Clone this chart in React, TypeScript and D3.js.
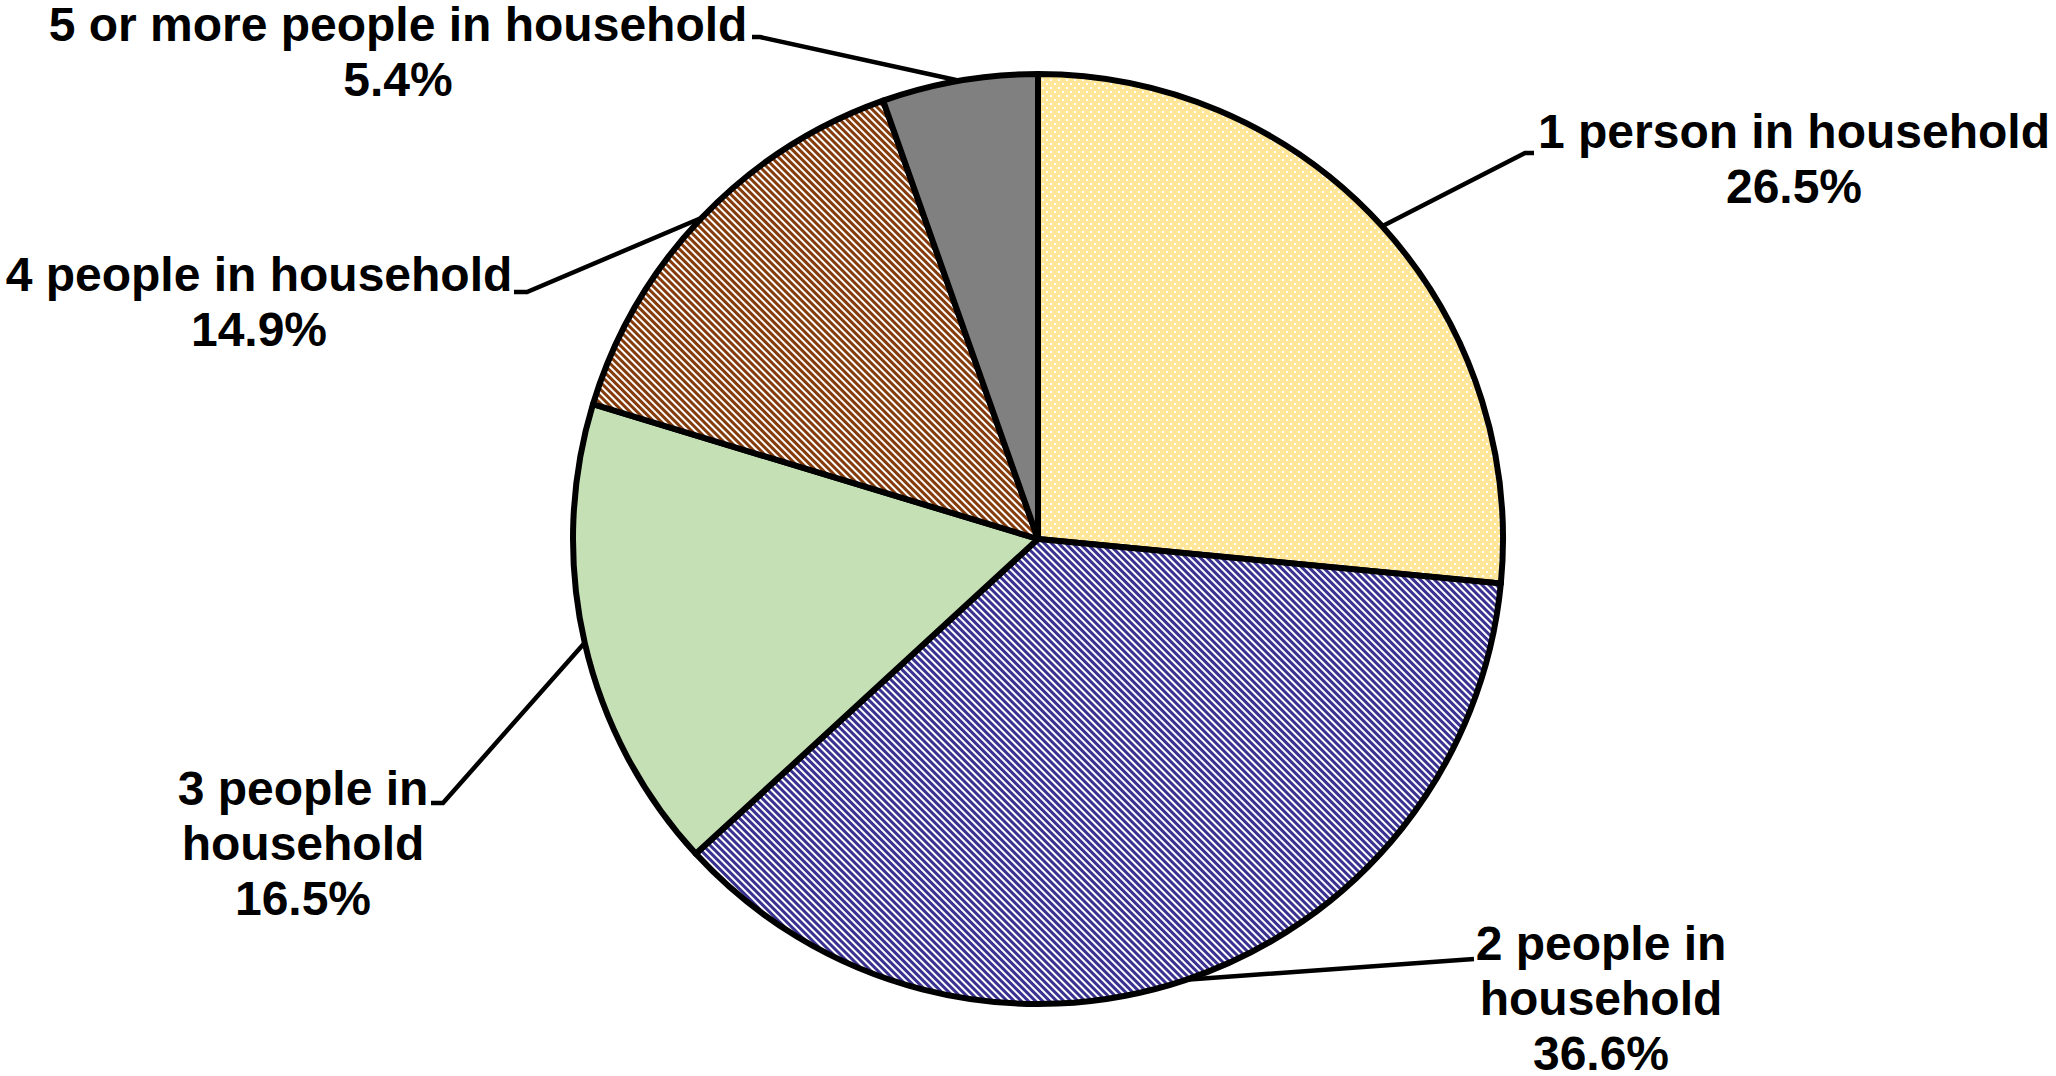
import { useRef, useEffect } from 'react';
import * as d3 from 'd3';

const WIDTH = 2056;
const HEIGHT = 1076;
const CENTER = { x: 1038, y: 539 };
const RADIUS = 465;
const LINE_H = 55;

// data
const categories = [
  '1 person in household',
  '2 people in household',
  '3 people in household',
  '4 people in household',
  '5 or more people in household',
];
const values = [26.5, 36.6, 16.5, 14.9, 5.4];

// label layout: first line baseline, centre x, where the title wraps, leader stub
const labelLayout = [
  { cx: 1794, y: 148, wrap: false, stub: [[1534, 153], [1525, 153]] },
  { cx: 1601, y: 960, wrap: true, stub: [[1474, 959], [1460, 960]] },
  { cx: 303, y: 805, wrap: true, stub: [[431, 803], [443, 803]] },
  { cx: 259, y: 291, wrap: false, stub: [[514, 292], [527, 292]] },
  { cx: 398, y: 41, wrap: false, stub: [[752, 37], [760, 37]] },
];

const fills = ['url(#dots)', 'url(#blueStripes)', '#C5E0B4', 'url(#brownStripes)', '#808080'];

export default function App() {
  const svgRef = useRef<SVGSVGElement>(null);

  useEffect(() => {
    const svg = d3.select(svgRef.current);
    svg.selectAll('*').remove();

    const defs = svg.append('defs');

    // yellow with white dots
    const dots = defs.append('pattern').attr('id', 'dots')
      .attr('patternUnits', 'userSpaceOnUse').attr('width', 8).attr('height', 8);
    dots.append('rect').attr('width', 8).attr('height', 8).attr('fill', '#FFE699');
    dots.append('rect').attr('x', 0).attr('y', 0).attr('width', 2).attr('height', 2).attr('fill', '#fff');
    dots.append('rect').attr('x', 4).attr('y', 4).attr('width', 2).attr('height', 2).attr('fill', '#fff');

    const stripes = (id: string, color: string) => {
      const p = defs.append('pattern').attr('id', id)
        .attr('patternUnits', 'userSpaceOnUse').attr('width', 5).attr('height', 10)
        .attr('patternTransform', 'rotate(-45)');
      p.append('rect').attr('width', 5).attr('height', 10).attr('fill', '#fff');
      p.append('rect').attr('width', 3).attr('height', 10).attr('fill', color);
    };
    stripes('blueStripes', '#3A3290');
    stripes('brownStripes', '#843C0C');

    const g = svg.append('g').attr('transform', `translate(${CENTER.x},${CENTER.y})`);

    const pie = d3.pie<number>().sort(null).value(d => d)(values);
    const arc = d3.arc<d3.PieArcDatum<number>>().innerRadius(0).outerRadius(RADIUS);

    g.selectAll('path.slice').data(pie).enter()
      .append('path')
      .attr('class', 'slice')
      .attr('d', arc)
      .attr('fill', (d, i) => fills[i])
      .attr('stroke', '#000')
      .attr('stroke-width', 6)
      .attr('stroke-linejoin', 'round');

    // leader lines
    const line = d3.line();
    pie.forEach((d, i) => {
      const a = (d.startAngle + d.endAngle) / 2;
      const edge: [number, number] = [CENTER.x + RADIUS * Math.sin(a), CENTER.y - RADIUS * Math.cos(a)];
      const pts = [...labelLayout[i].stub, edge] as [number, number][];
      svg.append('path')
        .attr('d', line(pts))
        .attr('fill', 'none')
        .attr('stroke', '#000')
        .attr('stroke-width', 4.5);
    });

    // labels
    categories.forEach((c, i) => {
      const L = labelLayout[i];
      let lines: string[];
      if (L.wrap) {
        const k = c.lastIndexOf(' household');
        lines = [c.slice(0, k), c.slice(k + 1)];
      } else {
        lines = [c];
      }
      lines.push(`${values[i].toFixed(1)}%`);
      const t = svg.append('text')
        .attr('text-anchor', 'middle')
        .attr('font-family', '"Liberation Sans", Arial, sans-serif')
        .attr('font-weight', 'bold')
        .attr('font-size', 48)
        .attr('fill', '#000');
      lines.forEach((s, j) => {
        t.append('tspan').attr('x', L.cx).attr('y', L.y + j * LINE_H).text(s);
      });
    });
  }, []);

  return (
    <svg
      ref={svgRef}
      width={WIDTH}
      height={HEIGHT}
      style={{ position: 'absolute', left: 0, top: 0, background: '#fff' }}
    />
  );
}
